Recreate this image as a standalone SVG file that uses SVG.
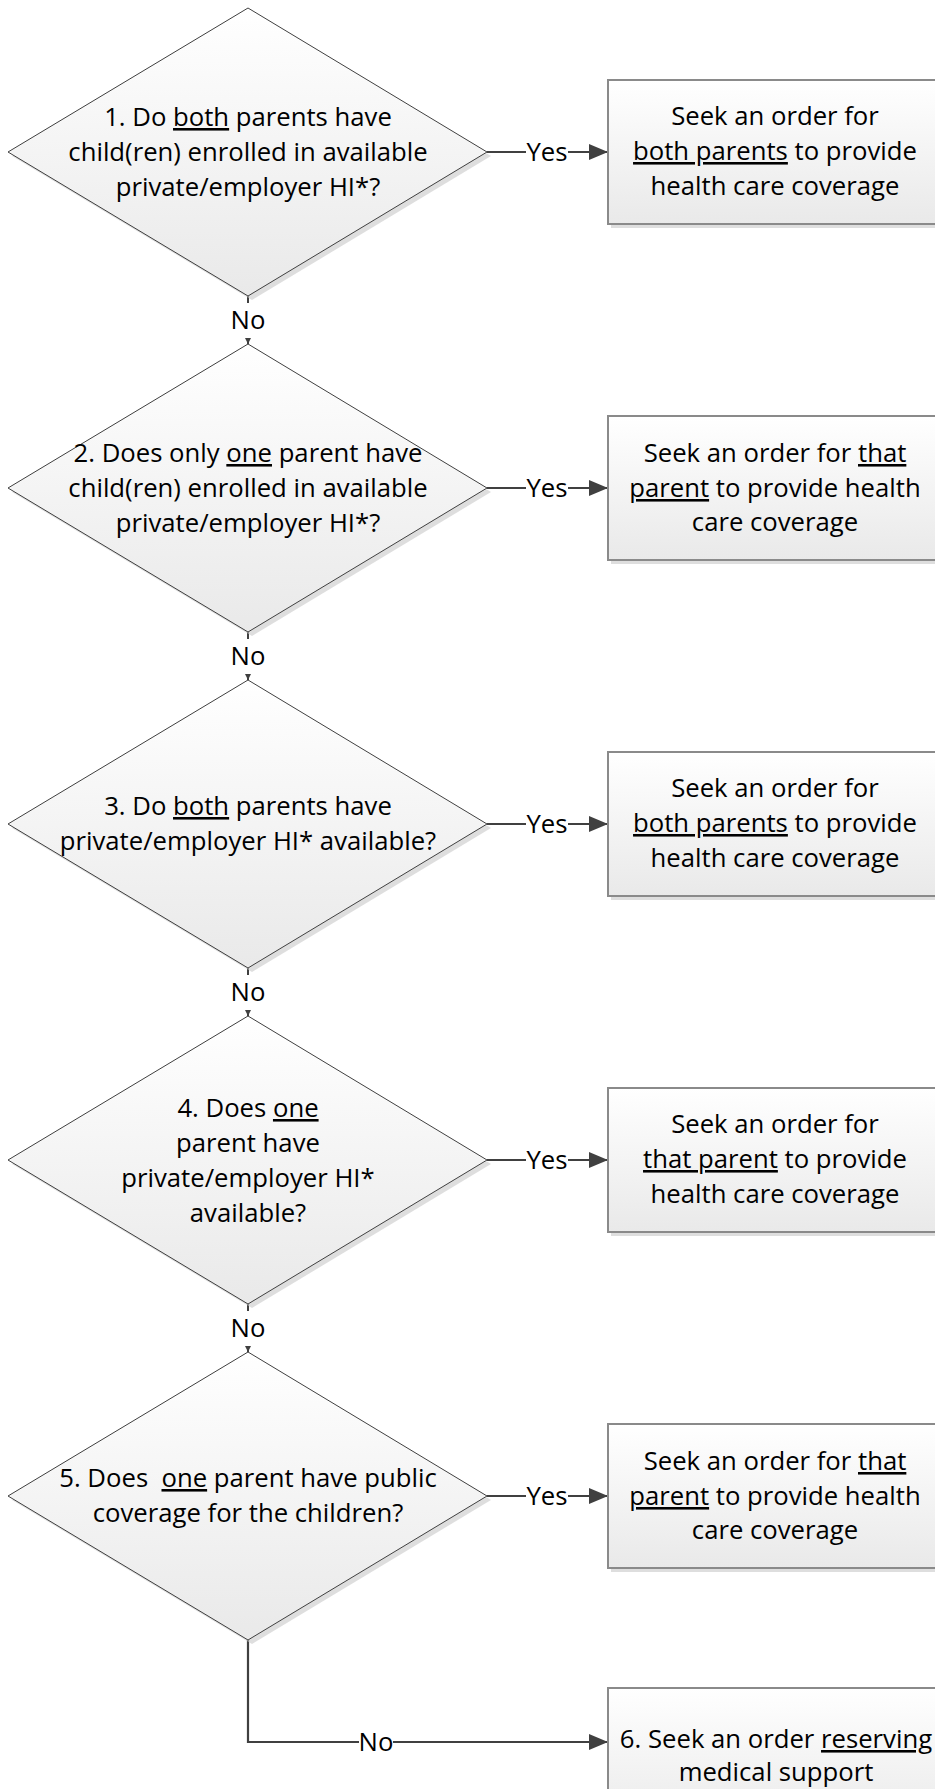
<svg xmlns="http://www.w3.org/2000/svg" width="935" height="1789" viewBox="0 0 935 1789">
<defs>
<linearGradient id="gfill" x1="0" y1="0" x2="0" y2="1">
<stop offset="0" stop-color="#ffffff"/>
<stop offset="1" stop-color="#e9e9e9"/>
</linearGradient>
<marker id="bigArrow" markerUnits="userSpaceOnUse" markerWidth="19" markerHeight="16" refX="19" refY="8" orient="auto">
<path d="M0,0 L19,8 L0,16 z" fill="#404040"/>
</marker>
<marker id="smallArrow" markerUnits="userSpaceOnUse" markerWidth="6" markerHeight="6" refX="6" refY="3" orient="auto">
<path d="M0,0 L6,3 L0,6 z" fill="#404040"/>
</marker>
</defs>
<style>
.dia{fill:url(#gfill);stroke:#404040;stroke-width:1}
.box{fill:url(#gfill);stroke:#8a8a8a;stroke-width:2}
.shadow{fill:#c8c8c8;opacity:0.6}
.t{font-family:"Open Sans","Liberation Sans",sans-serif;font-size:25.7px;fill:#000;text-anchor:middle}
.u{text-decoration:underline}
.pre{white-space:pre}
.conn{stroke:#404040;stroke-width:2.2;fill:none}
.thin{stroke:#404040;stroke-width:2;fill:none}
.lbg{fill:#ffffff}
</style>
<rect width="935" height="1789" fill="#ffffff"/>

<g id="connectors">
<line class="conn" x1="487" y1="152" x2="608" y2="152" marker-end="url(#bigArrow)"/>
<line class="conn" x1="487" y1="488" x2="608" y2="488" marker-end="url(#bigArrow)"/>
<line class="conn" x1="487" y1="824" x2="608" y2="824" marker-end="url(#bigArrow)"/>
<line class="conn" x1="487" y1="1160" x2="608" y2="1160" marker-end="url(#bigArrow)"/>
<line class="conn" x1="487" y1="1496" x2="608" y2="1496" marker-end="url(#bigArrow)"/>
<line class="thin" x1="248" y1="296" x2="248" y2="344" marker-end="url(#smallArrow)"/>
<line class="thin" x1="248" y1="632" x2="248" y2="680" marker-end="url(#smallArrow)"/>
<line class="thin" x1="248" y1="968" x2="248" y2="1016" marker-end="url(#smallArrow)"/>
<line class="thin" x1="248" y1="1304" x2="248" y2="1352" marker-end="url(#smallArrow)"/>
<polyline class="conn" points="248,1640 248,1742 608,1742" marker-end="url(#bigArrow)"/>
<g id="labels">
<rect class="lbg" x="526" y="138" width="42" height="28"/>
<text class="t" x="547" y="161">Yes</text>
<rect class="lbg" x="526" y="474" width="42" height="28"/>
<text class="t" x="547" y="497">Yes</text>
<rect class="lbg" x="526" y="810" width="42" height="28"/>
<text class="t" x="547" y="833">Yes</text>
<rect class="lbg" x="526" y="1146" width="42" height="28"/>
<text class="t" x="547" y="1169">Yes</text>
<rect class="lbg" x="526" y="1482" width="42" height="28"/>
<text class="t" x="547" y="1505">Yes</text>
<rect class="lbg" x="232" y="303" width="32" height="35"/>
<text class="t" x="248" y="329">No</text>
<rect class="lbg" x="232" y="639" width="32" height="35"/>
<text class="t" x="248" y="665">No</text>
<rect class="lbg" x="232" y="975" width="32" height="35"/>
<text class="t" x="248" y="1001">No</text>
<rect class="lbg" x="232" y="1311" width="32" height="35"/>
<text class="t" x="248" y="1337">No</text>
<rect class="lbg" x="359" y="1728" width="34" height="28"/>
<text class="t" x="376" y="1751">No</text>
</g>
</g>

<g id="d1">
<polygon class="shadow" points="252,12 491,156 252,300 12,156"/>
<polygon class="dia" points="248,8 487,152 248,296 8,152"/>
<text class="t" x="248" y="126">1. Do <tspan class="u">both</tspan> parents have</text>
<text class="t" x="248" y="161">child(ren) enrolled in available</text>
<text class="t" x="248" y="196">private/employer HI*?</text>
</g>

<g id="b1">
<rect class="shadow" x="611" y="84" width="340" height="144"/>
<rect class="box" x="608" y="80" width="340" height="144"/>
<text class="t" x="775" y="125">Seek an order for</text>
<text class="t" x="775" y="160"><tspan class="u">both parents</tspan> to provide</text>
<text class="t" x="775" y="195">health care coverage</text>
</g>

<g id="d2">
<polygon class="shadow" points="252,348 491,492 252,636 12,492"/>
<polygon class="dia" points="248,344 487,488 248,632 8,488"/>
<text class="t" x="248" y="462">2. Does only <tspan class="u">one</tspan> parent have</text>
<text class="t" x="248" y="497">child(ren) enrolled in available</text>
<text class="t" x="248" y="532">private/employer HI*?</text>
</g>

<g id="b2">
<rect class="shadow" x="611" y="420" width="340" height="144"/>
<rect class="box" x="608" y="416" width="340" height="144"/>
<text class="t" x="775" y="462">Seek an order for <tspan class="u">that</tspan></text>
<text class="t" x="775" y="497"><tspan class="u">parent</tspan> to provide health</text>
<text class="t" x="775" y="531">care coverage</text>
</g>

<g id="d3">
<polygon class="shadow" points="252,684 491,828 252,972 12,828"/>
<polygon class="dia" points="248,680 487,824 248,968 8,824"/>
<text class="t" x="248" y="815">3. Do <tspan class="u">both</tspan> parents have</text>
<text class="t" x="248" y="850">private/employer HI* available?</text>
</g>

<g id="b3">
<rect class="shadow" x="611" y="756" width="340" height="144"/>
<rect class="box" x="608" y="752" width="340" height="144"/>
<text class="t" x="775" y="797">Seek an order for</text>
<text class="t" x="775" y="832"><tspan class="u">both parents</tspan> to provide</text>
<text class="t" x="775" y="867">health care coverage</text>
</g>

<g id="d4">
<polygon class="shadow" points="252,1020 491,1164 252,1308 12,1164"/>
<polygon class="dia" points="248,1016 487,1160 248,1304 8,1160"/>
<text class="t" x="248" y="1117">4. Does <tspan class="u">one</tspan></text>
<text class="t" x="248" y="1152">parent have</text>
<text class="t" x="248" y="1187">private/employer HI*</text>
<text class="t" x="248" y="1222">available?</text>
</g>

<g id="b4">
<rect class="shadow" x="611" y="1092" width="340" height="144"/>
<rect class="box" x="608" y="1088" width="340" height="144"/>
<text class="t" x="775" y="1133">Seek an order for</text>
<text class="t" x="775" y="1168"><tspan class="u">that parent</tspan> to provide</text>
<text class="t" x="775" y="1203">health care coverage</text>
</g>

<g id="d5">
<polygon class="shadow" points="252,1356 491,1500 252,1644 12,1500"/>
<polygon class="dia" points="248,1352 487,1496 248,1640 8,1496"/>
<text class="t pre" x="248" y="1487">5. Does  <tspan class="u">one</tspan> parent have public</text>
<text class="t" x="248" y="1522">coverage for the children?</text>
</g>

<g id="b5">
<rect class="shadow" x="611" y="1428" width="340" height="144"/>
<rect class="box" x="608" y="1424" width="340" height="144"/>
<text class="t" x="775" y="1470">Seek an order for <tspan class="u">that</tspan></text>
<text class="t" x="775" y="1505"><tspan class="u">parent</tspan> to provide health</text>
<text class="t" x="775" y="1539">care coverage</text>
</g>

<g id="b6">
<rect class="shadow" x="611" y="1692" width="340" height="144"/>
<rect class="box" x="608" y="1688" width="340" height="144"/>
<text class="t" x="776" y="1748">6. Seek an order <tspan class="u">reserving</tspan></text>
<text class="t" x="776" y="1781">medical support</text>
</g>
</svg>
